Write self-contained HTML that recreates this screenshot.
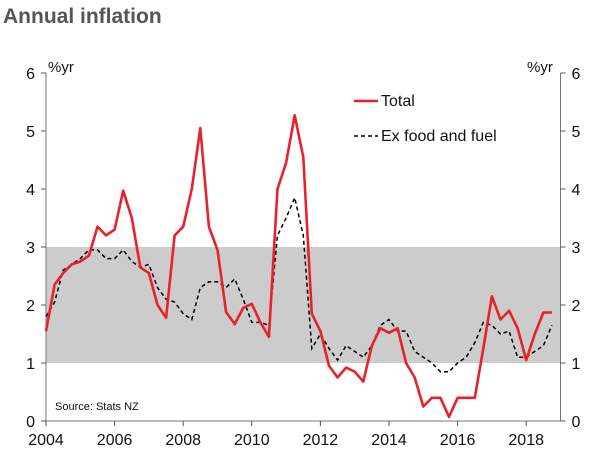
<!DOCTYPE html>
<html><head><meta charset="utf-8"><style>
body{margin:0;background:#fff;}
svg{display:block;font-family:"Liberation Sans",Arial,sans-serif;}
</style></head><body>
<svg id="chart" width="603" height="472">
<text x="3" y="23" font-size="21" font-weight="bold" fill="#555">Annual inflation</text>
<g id="g"></g>
</svg>
<script>
const yTicks=[0,1,2,3,4,5,6];
const xTicks=[2004,2006,2008,2010,2012,2014,2016,2018];
const startYear=2004;
const total=[1.55,2.35,2.55,2.7,2.75,2.85,3.35,3.2,3.3,3.97,3.5,2.65,2.55,2.0,1.78,3.2,3.35,4.0,5.05,3.35,2.95,1.88,1.67,1.95,2.02,1.7,1.45,4.0,4.45,5.27,4.55,1.85,1.55,0.95,0.75,0.92,0.85,0.68,1.3,1.6,1.52,1.6,1.0,0.75,0.25,0.4,0.4,0.07,0.4,0.4,0.4,1.25,2.15,1.75,1.9,1.6,1.05,1.5,1.87,1.87];
const exFoodFuel=[1.8,2.05,2.6,2.7,2.8,2.95,2.95,2.8,2.8,2.95,2.75,2.65,2.7,2.3,2.1,2.05,1.85,1.75,2.3,2.4,2.4,2.3,2.45,2.1,1.7,1.7,1.65,3.2,3.5,3.85,3.2,1.25,1.5,1.25,1.05,1.3,1.2,1.1,1.3,1.65,1.75,1.55,1.55,1.2,1.1,1.0,0.85,0.85,1.0,1.1,1.35,1.7,1.65,1.5,1.55,1.1,1.1,1.2,1.3,1.65];
const band=[1,3];
const L=46,R=560.5,T=73,B=421;
const x=t=>L+(t-2004)*(R-L)/15;
const y=v=>B-v*(B-T)/6;
const g=document.getElementById('g');
const NS='http://www.w3.org/2000/svg';
function mk(tag,a){const e=document.createElementNS(NS,tag);for(const k in a)e.setAttribute(k,a[k]);g.appendChild(e);return e;}
let e=mk('rect',{x:L,y:y(band[1]),width:R-L,height:y(band[0])-y(band[1]),fill:'#cccccc'});


e=mk('line',{x1:L,y1:T,x2:L,y2:B,stroke:'#777','stroke-width':1});


e=mk('line',{x1:R,y1:T,x2:R,y2:B,stroke:'#777','stroke-width':1});


e=mk('line',{x1:L,y1:B,x2:R,y2:B,stroke:'#777','stroke-width':1});


yTicks.forEach(v=>{
 mk('line',{x1:L-5,y1:y(v),x2:L,y2:y(v),stroke:'#555'});
 mk('line',{x1:R,y1:y(v),x2:R+5,y2:y(v),stroke:'#555'});
 let t=mk('text',{x:L-11,y:y(v)+6,'font-size':16,'text-anchor':'end',fill:'#111'});t.textContent=v;
 
 
 t=mk('text',{x:R+11,y:y(v)+6,'font-size':16,fill:'#111'});t.textContent=v;
 
 
});
xTicks.forEach(v=>{
 mk('line',{x1:x(v),y1:B,x2:x(v),y2:B+5,stroke:'#555'});
 let t=mk('text',{x:x(v),y:B+24,'font-size':16,'text-anchor':'middle',fill:'#111'});t.textContent=v;
 
 
});
function path(arr){return arr.map((v,i)=>(i?'L':'M')+x(startYear+i/4).toFixed(1)+','+y(v).toFixed(1)).join('');}
e=mk('path',{d:path(exFoodFuel),fill:'none',stroke:'#000','stroke-width':1.5,'stroke-dasharray':'4,3'});


e=mk('path',{d:path(total),fill:'none',stroke:'#e8222a','stroke-width':2.6,'stroke-linejoin':'round'});


function txt(s,a,name){const t=mk('text',a);t.textContent=s;return t;}
txt('%yr',{x:48,y:72,'font-size':15,fill:'#111'},'left-unit-label');
txt('%yr',{x:527,y:72,'font-size':15,fill:'#111'},'right-unit-label');
txt('Source: Stats NZ',{x:55,y:410,'font-size':11,fill:'#111'},'source-note');
mk('line',{x1:354,y1:101,x2:378,y2:101,stroke:'#e8222a','stroke-width':2.6});
txt('Total',{x:381,y:106,'font-size':16,fill:'#111'},'legend-total');
mk('line',{x1:354,y1:136,x2:378,y2:136,stroke:'#000','stroke-width':1.5,'stroke-dasharray':'4,3'});
txt('Ex food and fuel',{x:381,y:141,'font-size':16,fill:'#111'},'legend-ex-food-fuel');
</script>
</body></html>
